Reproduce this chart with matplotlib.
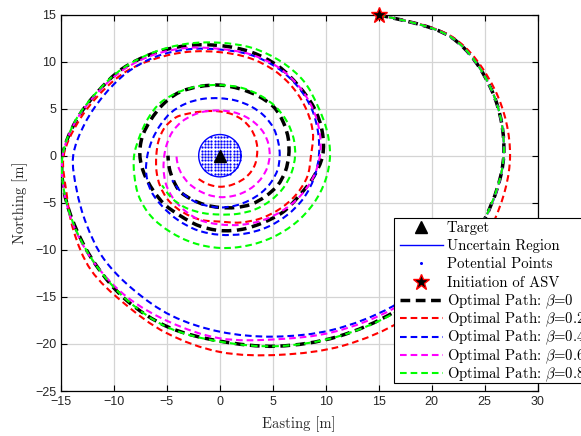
import numpy as np
import matplotlib
matplotlib.use("Agg")
import matplotlib.pyplot as plt
from matplotlib.path import Path
from matplotlib.patches import PathPatch, Rectangle
from matplotlib.lines import Line2D

plt.rcParams["mathtext.fontset"] = "cm"

# sample angles (deg) along each path, clockwise from the ASV start point
angles = np.arange(45, 45 - 15 * 64, -15)

# radius from the target at each sample angle, one list per weight beta
r_beta0 = [21.2, 25.2, 26.6, 26.8, 25.9, 24.7, 23.4, 22.2, 20.95, 19.7,
           18.85, 17.7, 16.5, 15.65, 15.2, 14.85, 14.1, 13.4, 13.05, 12.56,
           12.1, 11.7, 11.4, 11.0, 10.5, 10.25, 10.0, 9.7, 9.1, 8.6,
           8.45, 8.2, 8.1, 7.95, 7.7, 7.4, 7.35, 7.3, 7.4, 7.55,
           7.6, 7.55, 7.65, 7.75, 7.6, 7.5, 7.35, 7.3, 7.25, 6.95,
           6.7, 6.5, 6.4, 6.3, 6.1, 5.95, 5.7, 5.5, 5.4, 5.35,
           5.35, 5.1, 4.95, 4.9]
r_beta02 = [21.2, 25.3, 26.9, 27.4, 26.8, 25.7, 24.6, 23.3, 21.9, 20.85,
            19.5, 18.1, 17.2, 15.95, 15.0, 14.75, 13.85, 13.1, 12.6, 11.95,
            11.43, 11.0, 10.75, 10.4, 9.95, 9.5, 9.1, 8.6, 8.55, 8.3,
            8.0, 7.7, 7.35, 7.0, 7.05, 6.95, 6.8, 6.5, 6.2, 6.0,
            6.0, 6.0, 5.8, 5.25, 4.9, 4.7, 4.55, 4.35, 4.1, 3.85,
            3.65, 3.5, 3.45, 3.4, 3.35, 3.3, 3.3, 3.3, 3.25, 3.2,
            3.2]
r_beta04 = [21.2, 25.2, 26.6, 26.8, 25.9, 24.4, 22.8, 21.35, 19.9, 18.7,
            17.6, 16.4, 15.5, 14.55, 14.0, 13.85, 13.2, 12.7, 12.45, 12.14,
            11.7, 11.28, 11.1, 10.8, 10.4, 10.0, 9.6, 9.35, 9.2, 9.1,
            8.95, 8.8, 8.6, 8.4, 8.2, 7.9, 7.65, 7.5, 7.2, 6.85,
            6.6, 6.5, 6.5, 6.4, 6.25, 6.1, 6.05, 6.0, 5.95, 5.85,
            5.7, 5.65, 5.65, 5.6, 5.55, 5.5, 5.5, 5.5, 5.45, 5.4,
            5.3, 5.2]
r_beta06 = [21.2, 25.2, 26.6, 26.8, 25.9, 24.5, 23.05, 21.6, 20.2, 19.4,
            18.3, 17.4, 16.5, 15.75, 15.2, 14.85, 14.1, 13.35, 12.9, 12.4,
            11.86, 11.35, 11.15, 10.9, 10.5, 10.1, 9.75, 9.45, 9.1, 8.7,
            8.3, 7.95, 7.6, 7.3, 7.1, 6.7, 6.3, 5.9, 5.5, 5.25,
            5.15, 5.15, 5.1, 5.0, 4.9, 4.8, 4.8, 4.8, 4.8, 4.8,
            4.75, 4.7, 4.65, 4.6, 4.55, 4.5, 4.45, 4.4, 4.3, 4.2,
            4.15, 4.1, 4.1, 4.1]
r_beta08 = [21.2, 25.2, 26.6, 26.8, 25.9, 24.8, 23.5, 22.2, 20.95, 19.75,
            18.9, 17.65, 16.5, 15.7, 15.2, 14.85, 14.15, 13.45, 13.05, 12.65,
            12.3, 12.0, 11.85, 11.55, 11.2, 10.65, 10.45, 10.4, 10.3, 10.2,
            10.1, 10.0, 9.9, 9.8, 9.6, 9.35, 9.15, 8.8, 8.35, 8.1,
            7.85, 7.85, 7.95, 7.8, 7.65, 7.5, 7.5, 7.45, 7.4, 7.3,
            7.2, 7.1, 7.0, 6.9, 6.75, 6.6, 6.4, 6.25, 6.3, 6.4,
            6.4, 6.3]

betas = ["0", "0.2", "0.4", "0.6", "0.8"]
colors = ["black", "red", "blue", "magenta", "lime"]

target = (0.0, 0.0)
asv_start = (15.0, 15.0)
region_rx, region_ry = 2.0, 2.25   # uncertain region half-widths
grid_dx, grid_dy = 0.3, 0.35       # spacing of candidate target points


def smooth_path(x, y):
    # Catmull-Rom through the samples, handed to matplotlib as cubic Bezier segments
    pts = np.column_stack([x, y])
    n = len(pts)
    verts = [pts[0]]
    codes = [Path.MOVETO]
    for i in range(n - 1):
        p0 = pts[max(i - 1, 0)]
        p1 = pts[i]
        p2 = pts[i + 1]
        p3 = pts[min(i + 2, n - 1)]
        verts += [p1 + (p2 - p0) / 6.0, p2 - (p3 - p1) / 6.0, p2]
        codes += [Path.CURVE4] * 3
    return Path(verts, codes)


W, H = 581, 436
fig = plt.figure(figsize=(W / 100, H / 100), dpi=100)
ax = fig.add_axes([0.105, 0.1032, 0.8203, 0.8635])

# optimal paths
radii = [r_beta0, r_beta02, r_beta04, r_beta06, r_beta08]
path_styles = []
for r, c in zip(radii, colors):
    r = np.array(r)
    th = np.deg2rad(angles[:len(r)])
    x = r * np.cos(th)
    y = r * np.sin(th)
    if c == "black":
        style = dict(lw=2.5, ls=(0, (2.8, 1.6)))
    else:
        style = dict(lw=1.5, ls=(0, (3.2, 1.9)))
    ax.add_patch(PathPatch(smooth_path(x, y), fill=False, edgecolor=c, zorder=3, **style))
    path_styles.append(style)

# uncertain region and the candidate points inside it
t = np.linspace(0, 2 * np.pi, 200)
ax.plot(target[0] + region_rx * np.cos(t), target[1] + region_ry * np.sin(t),
        color="blue", lw=1.0, zorder=4)
gx, gy = np.meshgrid(np.arange(-region_rx, region_rx + 0.01, grid_dx),
                     np.arange(-region_ry, region_ry + 0.01, grid_dy))
inside = (gx / region_rx) ** 2 + (gy / region_ry) ** 2 <= 1.0
ax.plot(gx[inside], gy[inside], "o", color="blue", ms=1.6, mew=0, zorder=4)

ax.plot(*target, "^", color="black", ms=9, zorder=6)
ax.plot(*asv_start, "*", mfc="black", mec="red", mew=1.0, ms=12, zorder=6, clip_on=False)

ax.set_xlim(-15, 30)
ax.set_ylim(-25, 15)
ax.set_xticks(np.arange(-15, 31, 5))
ax.set_yticks(np.arange(-25, 16, 5))
ax.grid(True, color="#d4d4d4", lw=0.9)
ax.set_axisbelow(True)
ax.tick_params(direction="in", length=4, top=True, right=True, labelsize=9)
for lab in ax.get_xticklabels() + ax.get_yticklabels():
    lab.set_fontfamily("Liberation Sans")
    lab.set_color("#262626")
for s in ax.spines.values():
    s.set_linewidth(0.9)

ax.set_xlabel("Easting [m]", fontfamily="cmr10", fontsize=10.5, color="#262626", labelpad=6)
ax.set_ylabel("Northing [m]", fontfamily="cmr10", fontsize=10.5, color="#262626", labelpad=5)


# legend laid out by hand (pixel positions) so every row has the same pitch;
# it runs past the right edge of the figure
def fx(px):
    return px / W


def fy(py):
    return 1 - py / H


fig.add_artist(Rectangle((fx(394), fy(383.3)), fx(720) - fx(394), fy(218.3) - fy(383.3),
                         transform=fig.transFigure, facecolor="white", edgecolor="black",
                         lw=0.8, zorder=10))

entries = [
    (dict(marker="^", color="black", ms=9, ls="none"), "Target"),
    (dict(color="blue", lw=1.0), "Uncertain Region"),
    (dict(marker="o", color="blue", ms=2.2, mew=0, ls="none"), "Potential Points"),
    (dict(marker="*", mfc="black", mec="red", mew=1.0, ms=12, ls="none"), "Initiation of ASV"),
]
for c, b, style in zip(colors, betas, path_styles):
    entries.append((dict(color=c, **style), r"Optimal Path: $\beta$=" + b))

for i, (kw, label) in enumerate(entries):
    yc = 226.7 + 18.3 * i
    if kw.get("ls") == "none":
        xs = [fx(421)]
    else:
        xs = [fx(399.5), fx(442.5)]
    fig.add_artist(Line2D(xs, [fy(yc)] * len(xs), transform=fig.transFigure, zorder=11, **kw))
    fig.text(fx(446.7), fy(yc + 5.0), label, fontfamily="cmr10", fontsize=10.6,
             va="baseline", ha="left", zorder=11)

fig.savefig("out.png", dpi=100)
